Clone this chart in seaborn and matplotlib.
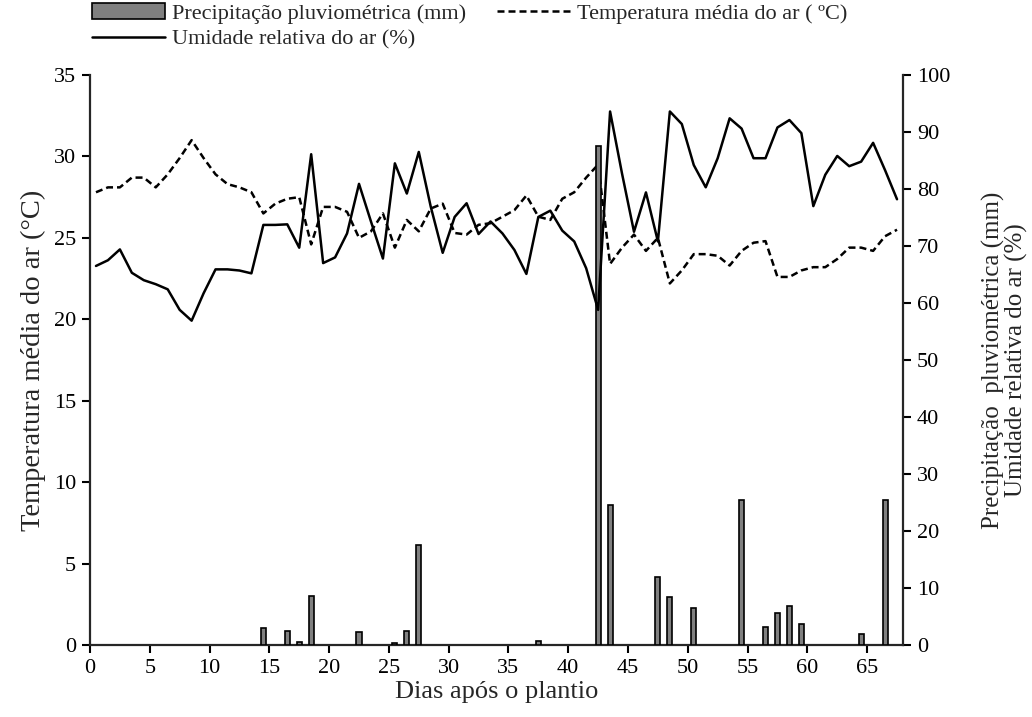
import numpy as np
import pandas as pd
import matplotlib
matplotlib.use("Agg")
import matplotlib.pyplot as plt
from matplotlib.patches import Patch
from matplotlib.lines import Line2D
import seaborn as sns

# ---------------- data ----------------
days = np.arange(0, 68)  # day index; values plotted at category centres (day + 0.5)

temperature = [27.8, 28.1, 28.1, 28.7, 28.7, 28.1, 28.9, 29.9, 31.0, 29.9,
               28.9, 28.3, 28.1, 27.8, 26.5, 27.1, 27.4, 27.5, 24.6, 26.9,
               26.9, 26.6, 25.0, 25.4, 26.5, 24.4, 26.1, 25.4, 26.8, 27.1,
               25.3, 25.2, 25.8, 25.9, 26.3, 26.7, 27.6, 26.3, 26.1, 27.4,
               27.8, 28.7, 29.5, 23.4, 24.4, 25.2, 24.2, 25.0, 22.2, 23.0,
               24.0, 24.0, 23.9, 23.3, 24.2, 24.7, 24.8, 22.6, 22.6, 23.0,
               23.2, 23.2, 23.7, 24.4, 24.4, 24.2, 25.1, 25.5]

humidity = [66.5, 67.5, 69.4, 65.3, 64.0, 63.3, 62.4, 58.8, 56.9, 61.7,
            65.9, 65.9, 65.7, 65.2, 73.7, 73.7, 73.8, 69.7, 86.1, 67.0,
            68.0, 72.2, 80.9, 74.3, 67.8, 84.5, 79.2, 86.5, 76.9, 68.8,
            75.1, 77.5, 72.1, 74.3, 72.2, 69.3, 65.1, 75.1, 76.2, 72.7,
            70.8, 66.1, 58.8, 93.6, 82.7, 72.5, 79.4, 70.8, 93.6, 91.4,
            84.2, 80.3, 85.4, 92.4, 90.6, 85.4, 85.4, 90.8, 92.1, 89.8,
            77.0, 82.5, 85.8, 84.0, 84.8, 88.1, 83.3, 78.2]

rain_days = [14, 16, 17, 18, 22, 25, 26, 27, 37, 42, 43, 47, 48, 50,
             54, 56, 57, 58, 59, 64, 66]
rain_mm = [2.9, 2.5, 0.6, 8.6, 2.3, 0.3, 2.5, 17.5, 0.7, 87.5, 24.6, 12.0,
           8.4, 6.5, 25.5, 3.2, 5.7, 6.8, 3.7, 2.0, 25.5]

x_ticks = list(range(0, 70, 5))
left_ticks = list(range(0, 40, 5))
right_ticks = list(range(0, 110, 10))

lbl_x = "Dias após o plantio"
lbl_left = "Temperatura média do ar (°C)"
lbl_right = "Precipitação  pluviométrica (mm)\nUmidade relativa do ar (%)"
leg_rain = "Precipitação pluviométrica (mm)"
leg_temp = "Temperatura média do ar ( ºC)"
leg_hum = "Umidade relativa do ar (%)"

# ---------------- style ----------------
sns.set_style("ticks")
plt.rcParams["font.family"] = ["Liberation Serif", "DejaVu Serif"]
plt.rcParams["axes.linewidth"] = 1.6

centre = 0.5
line_df = pd.DataFrame({"pos": days + centre, "temp": temperature, "hum": humidity})
rain_df = pd.DataFrame({"pos": np.array(rain_days) + centre, "mm": rain_mm})

fig = plt.figure(figsize=(10.32, 7.17), dpi=100)
ax1 = fig.add_axes([90 / 1032, 72 / 717, 813 / 1032, 570 / 717])
ax2 = ax1.twinx()

# temperature (left axis)
sns.lineplot(data=line_df, x="pos", y="temp", ax=ax1, color="black",
             linewidth=1.8, errorbar=None)
ax1.lines[0].set_dashes((2.8, 1.6))

# precipitation bars and humidity (right axis)
sns.barplot(data=rain_df, x="pos", y="mm", ax=ax2, native_scale=True,
            width=0.42, color="#808080", saturation=1, edgecolor="black",
            linewidth=1.2, errorbar=None)
sns.lineplot(data=line_df, x="pos", y="hum", ax=ax2, color="black",
             linewidth=1.8, errorbar=None)

ax1.set_xlim(0, 68)
ax2.set_xlim(0, 68)
ax1.set_ylim(0, 35)
ax2.set_ylim(0, 100)
ax1.set_xticks(x_ticks)
ax1.set_xticklabels([str(v) for v in x_ticks])
ax1.set_yticks(left_ticks)
ax2.set_yticks(right_ticks)

for a in (ax1, ax2):
    a.spines["top"].set_visible(False)
    a.tick_params(direction="out", length=6, width=1.5, labelsize=16,
                  colors="black", pad=4)
ax1.spines["right"].set_visible(False)
ax2.spines["left"].set_visible(False)
ax2.spines["bottom"].set_visible(False)

ax1.set_xlabel(lbl_x, fontsize=19, labelpad=2)
ax1.set_ylabel(lbl_left, fontsize=20.5, labelpad=6)
ax2.set_ylabel(lbl_right, fontsize=18, labelpad=23, linespacing=0.95)
ax2.set_xlabel("")

handles = [
    Patch(facecolor="#808080", edgecolor="black", linewidth=1.2, label=leg_rain),
    Line2D([], [], color="black", linewidth=1.8, label=leg_hum),
    Line2D([], [], color="black", linewidth=1.8, dashes=(2.8, 1.6), label=leg_temp),
]
fig.legend(handles=handles, ncol=2, loc="upper left",
           bbox_to_anchor=(92 / 1032, 1 - 3 / 717), frameon=False,
           fontsize=16, handlelength=3.3, handletextpad=0.3,
           columnspacing=1.4, labelspacing=0.25, borderpad=0,
           borderaxespad=0)

fig.savefig("out.png", dpi=100)
